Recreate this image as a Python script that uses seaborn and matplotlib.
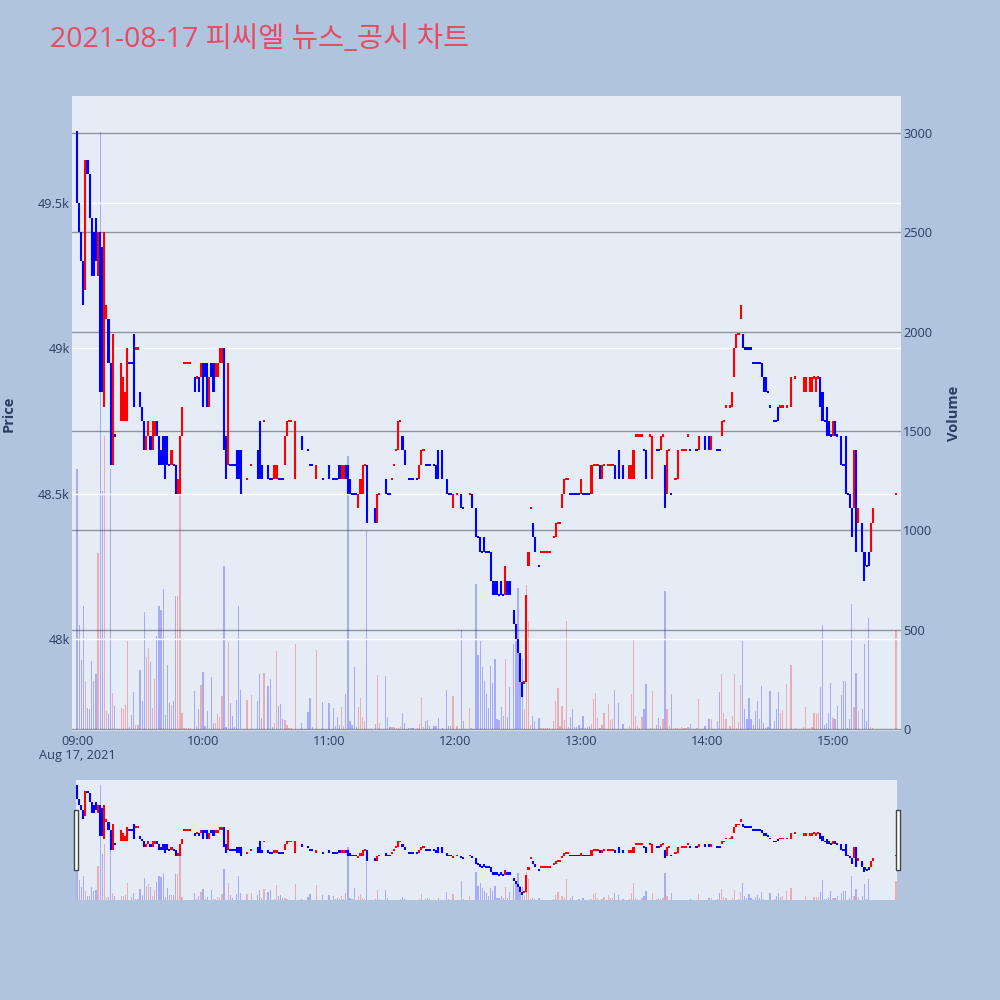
import numpy as np
import pandas as pd
import matplotlib
matplotlib.use("Agg")
import matplotlib.pyplot as plt
import seaborn as sns
from matplotlib.patches import Rectangle

# ---------------- data (minutes after 09:00) ----------------
minutes = [
    0, 1, 2, 3, 4, 5, 6, 7, 8, 9, 10, 11, 12, 13, 14, 15, 16, 17, 18,
    21, 22, 23, 24, 25, 26, 27, 28, 29, 30, 31, 32, 33, 34, 35, 36, 37, 38, 39,
    40, 41, 42, 43, 44, 45, 46, 47, 48, 49, 50, 51, 52, 53, 54, 56, 57, 58, 59,
    60, 61, 62, 63, 64, 65, 66, 67, 68, 69, 70, 71, 72, 73, 74, 75, 76, 77, 78,
    81, 83, 86, 87, 88, 89, 91, 92, 93, 94, 95, 96, 97, 98, 99,
    100, 101, 102, 104, 107, 110, 111, 112, 114, 117, 120, 122, 123, 124, 125,
    126, 127, 128, 129, 130, 131, 132, 133, 134, 135, 136, 137, 138, 142, 143,
    144, 147, 148, 149, 150, 151, 152, 153, 154, 155, 156, 158, 159, 160, 162,
    163, 164, 165, 166, 167, 168, 170, 171, 172, 174, 176, 177, 178, 179, 181,
    183, 184, 187, 188, 190, 191, 192, 193, 194, 195, 196, 197, 198, 199,
    200, 201, 202, 203, 204, 205, 206, 208, 209, 210, 211, 212, 213, 214, 215,
    216, 217, 218, 220, 221, 222, 223, 224, 225, 227, 228, 229, 230, 231, 232,
    233, 234, 235, 236, 237, 238, 239, 240, 241, 242, 243, 244, 245, 246, 247,
    248, 249, 250, 251, 253, 254, 255, 256, 258, 260, 263, 264, 265, 266, 267,
    268, 269, 270, 271, 273, 274, 276, 277, 278, 279, 280, 281, 282, 283, 285,
    286, 288, 289, 290, 291, 292, 295, 296, 299, 301, 302, 305, 306, 307, 308,
    309, 311, 312, 313, 314, 315, 316, 317, 318, 319, 320, 321, 322, 323, 324,
    325, 326, 327, 328, 329, 330, 332, 333, 334, 335, 336, 338, 340, 342, 346,
    347, 349, 350, 351, 352, 353, 354, 355, 356, 357, 358, 359, 360, 361, 362,
    364, 365, 366, 367, 368, 369, 370, 371, 372, 374, 375, 376, 377, 378, 379,
    390,
]
opens = [
    49750, 49500, 49400, 49300, 49200, 49650, 49600, 49450, 49400, 49450, 49250, 49400, 49350, 48800, 49100, 49100, 48950, 48600, 48700,
    48750, 48750, 48750, 48750, 48950, 48950, 49050, 49000, 49000, 48850, 48800, 48750, 48650, 48700, 48700, 48650, 48700, 48750, 48700,
    48650, 48700, 48700, 48700, 48600, 48600, 48600, 48600, 48500, 48500, 48700, 48950, 48950, 48950, 48950, 48900, 48900, 48900, 48900,
    48950, 48950, 48950, 48800, 48950, 48950, 48900, 48900, 48950, 48950, 49000, 48700, 48600, 48600, 48600, 48600, 48650, 48650, 48650,
    48550, 48600, 48650, 48750, 48600, 48750, 48600, 48550, 48550, 48550, 48550, 48550, 48550, 48550, 48600,
    48700, 48750, 48750, 48600, 48700, 48650, 48600, 48600, 48550, 48550, 48600, 48550, 48550, 48550, 48600,
    48550, 48550, 48600, 48600, 48550, 48500, 48500, 48500, 48450, 48500, 48500, 48600, 48600, 48450, 48400,
    48500, 48550, 48500, 48500, 48550, 48600, 48650, 48650, 48750, 48700, 48650, 48550, 48550, 48550, 48550,
    48550, 48600, 48650, 48600, 48600, 48600, 48600, 48600, 48650, 48650, 48550, 48500, 48500, 48450, 48500,
    48500, 48450, 48500, 48500, 48450, 48350, 48350, 48300, 48350, 48300, 48300, 48300, 48200, 48200,
    48200, 48150, 48200, 48150, 48150, 48200, 48200, 48100, 48050, 48000, 47950, 47850, 47850, 48000, 48250,
    48450, 48400, 48350, 48250, 48300, 48300, 48300, 48300, 48300, 48350, 48350, 48400, 48400, 48450, 48500,
    48550, 48550, 48500, 48500, 48500, 48500, 48500, 48500, 48500, 48500, 48500, 48500, 48500, 48600, 48600,
    48600, 48600, 48550, 48600, 48600, 48600, 48600, 48600, 48650, 48600, 48550, 48550, 48550, 48700, 48700,
    48700, 48700, 48650, 48650, 48700, 48550, 48650, 48650, 48650, 48700, 48600, 48500, 48650, 48500, 48550,
    48550, 48650, 48650, 48650, 48700, 48650, 48650, 48650, 48700, 48700, 48650, 48650, 48650, 48700, 48750,
    48800, 48800, 48800, 48900, 49000, 49050, 49100, 49050, 49000, 49000, 49000, 49000, 48950, 48950, 48950,
    48950, 48950, 48900, 48900, 48850, 48800, 48750, 48750, 48800, 48800, 48800, 48800, 48800, 48900, 48850,
    48850, 48850, 48850, 48900, 48850, 48900, 48900, 48850, 48750, 48800, 48750, 48700, 48700, 48750, 48700,
    48700, 48600, 48700, 48500, 48500, 48450, 48450, 48650, 48400, 48400, 48300, 48250, 48300, 48300, 48400,
    48500,
]
highs = [
    49750, 49500, 49400, 49300, 49650, 49650, 49600, 49450, 49400, 49450, 49400, 49400, 49350, 49400, 49150, 49100, 48950, 49050, 48700,
    48950, 48900, 48850, 49000, 48950, 48950, 49050, 49000, 49000, 48850, 48800, 48750, 48700, 48750, 48700, 48750, 48750, 48750, 48700,
    48650, 48700, 48700, 48700, 48600, 48650, 48600, 48600, 48550, 48700, 48800, 48950, 48950, 48950, 48950, 48900, 48900, 48900, 48950,
    48950, 48950, 48950, 48900, 48950, 48950, 48950, 48950, 49000, 49000, 49000, 48700, 48950, 48600, 48600, 48600, 48650, 48650, 48650,
    48550, 48600, 48650, 48750, 48600, 48750, 48600, 48550, 48550, 48600, 48600, 48550, 48550, 48550, 48700,
    48750, 48750, 48750, 48750, 48700, 48650, 48600, 48600, 48600, 48550, 48600, 48550, 48550, 48550, 48600,
    48600, 48600, 48600, 48600, 48550, 48500, 48500, 48500, 48500, 48550, 48600, 48600, 48600, 48450, 48500,
    48500, 48550, 48500, 48500, 48550, 48600, 48650, 48750, 48750, 48700, 48650, 48550, 48550, 48550, 48550,
    48600, 48650, 48650, 48600, 48600, 48600, 48600, 48600, 48650, 48650, 48550, 48500, 48500, 48500, 48500,
    48500, 48450, 48500, 48500, 48450, 48350, 48350, 48300, 48350, 48300, 48300, 48300, 48200, 48200,
    48200, 48150, 48200, 48150, 48250, 48200, 48200, 48100, 48050, 48000, 47950, 47850, 47850, 48150, 48300,
    48450, 48400, 48350, 48250, 48300, 48300, 48300, 48300, 48300, 48350, 48400, 48400, 48400, 48500, 48550,
    48550, 48550, 48500, 48500, 48500, 48500, 48500, 48550, 48500, 48500, 48500, 48500, 48600, 48600, 48600,
    48600, 48600, 48600, 48600, 48600, 48600, 48600, 48600, 48650, 48600, 48600, 48600, 48650, 48700, 48700,
    48700, 48700, 48650, 48650, 48700, 48700, 48650, 48650, 48700, 48700, 48600, 48650, 48650, 48500, 48550,
    48650, 48650, 48650, 48650, 48700, 48650, 48650, 48700, 48700, 48700, 48700, 48650, 48650, 48750, 48750,
    48800, 48800, 48850, 49000, 49050, 49050, 49150, 49050, 49000, 49000, 49000, 49000, 48950, 48950, 48950,
    48950, 48950, 48900, 48900, 48850, 48800, 48750, 48750, 48800, 48800, 48800, 48800, 48900, 48900, 48900,
    48900, 48900, 48900, 48900, 48900, 48900, 48900, 48850, 48750, 48800, 48750, 48700, 48750, 48750, 48700,
    48700, 48600, 48700, 48500, 48500, 48450, 48650, 48650, 48450, 48400, 48300, 48250, 48300, 48400, 48450,
    48500,
]
lows = [
    49500, 49400, 49300, 49150, 49200, 49600, 49450, 49250, 49250, 49300, 49250, 48850, 48850, 48800, 49100, 48950, 48600, 48600, 48700,
    48750, 48750, 48750, 48750, 48950, 48950, 48800, 49000, 49000, 48800, 48750, 48650, 48650, 48700, 48650, 48650, 48700, 48700, 48600,
    48600, 48600, 48550, 48600, 48600, 48600, 48600, 48500, 48500, 48500, 48700, 48950, 48950, 48950, 48950, 48850, 48900, 48850, 48900,
    48800, 48900, 48800, 48800, 48900, 48850, 48900, 48900, 48950, 48950, 48650, 48550, 48600, 48600, 48600, 48600, 48550, 48550, 48500,
    48550, 48600, 48550, 48550, 48550, 48750, 48550, 48550, 48550, 48550, 48550, 48550, 48550, 48550, 48600,
    48700, 48750, 48750, 48550, 48650, 48650, 48600, 48600, 48550, 48550, 48550, 48550, 48550, 48550, 48550,
    48550, 48550, 48550, 48500, 48500, 48500, 48500, 48500, 48450, 48500, 48500, 48600, 48400, 48400, 48400,
    48500, 48500, 48500, 48500, 48550, 48600, 48650, 48650, 48750, 48650, 48600, 48550, 48550, 48550, 48550,
    48550, 48600, 48650, 48600, 48600, 48600, 48600, 48550, 48550, 48550, 48500, 48500, 48500, 48450, 48500,
    48450, 48450, 48500, 48450, 48350, 48350, 48300, 48300, 48300, 48300, 48300, 48200, 48150, 48150,
    48150, 48150, 48150, 48150, 48150, 48150, 48150, 48050, 48000, 47950, 47850, 47800, 47850, 47850, 48250,
    48450, 48350, 48300, 48250, 48300, 48300, 48300, 48300, 48300, 48350, 48350, 48400, 48400, 48450, 48500,
    48550, 48550, 48500, 48500, 48500, 48500, 48500, 48500, 48500, 48500, 48500, 48500, 48500, 48600, 48600,
    48600, 48550, 48550, 48600, 48600, 48600, 48600, 48550, 48550, 48550, 48550, 48550, 48550, 48700, 48700,
    48700, 48700, 48650, 48550, 48700, 48550, 48650, 48650, 48650, 48700, 48450, 48500, 48650, 48500, 48550,
    48550, 48650, 48650, 48650, 48700, 48650, 48650, 48650, 48650, 48650, 48650, 48650, 48650, 48700, 48750,
    48800, 48800, 48800, 48900, 49000, 49050, 49100, 49000, 49000, 49000, 49000, 49000, 48950, 48950, 48950,
    48950, 48900, 48850, 48850, 48850, 48800, 48750, 48750, 48750, 48800, 48800, 48800, 48800, 48900, 48850,
    48850, 48850, 48850, 48900, 48850, 48900, 48800, 48750, 48750, 48700, 48700, 48700, 48700, 48700, 48700,
    48600, 48600, 48500, 48500, 48450, 48350, 48450, 48300, 48400, 48300, 48200, 48250, 48250, 48300, 48400,
    48500,
]
closes = [
    49500, 49400, 49300, 49150, 49650, 49600, 49450, 49250, 49250, 49300, 49400, 48850, 48850, 49150, 49150, 48950, 48600, 49050, 48700,
    48950, 48900, 48850, 49000, 48950, 48950, 48800, 49000, 49000, 48800, 48750, 48650, 48700, 48750, 48650, 48750, 48750, 48700, 48600,
    48600, 48600, 48550, 48600, 48600, 48650, 48600, 48500, 48550, 48700, 48800, 48950, 48950, 48950, 48950, 48850, 48900, 48850, 48950,
    48800, 48900, 48800, 48900, 48900, 48850, 48950, 48950, 49000, 49000, 48650, 48550, 48950, 48600, 48600, 48600, 48550, 48550, 48500,
    48550, 48600, 48550, 48550, 48550, 48750, 48550, 48550, 48550, 48600, 48600, 48550, 48550, 48550, 48700,
    48750, 48750, 48750, 48750, 48650, 48650, 48600, 48600, 48600, 48550, 48550, 48550, 48550, 48550, 48550,
    48600, 48600, 48550, 48500, 48500, 48500, 48500, 48500, 48500, 48550, 48600, 48600, 48400, 48400, 48500,
    48500, 48500, 48500, 48500, 48550, 48600, 48650, 48750, 48750, 48650, 48600, 48550, 48550, 48550, 48550,
    48600, 48650, 48650, 48600, 48600, 48600, 48600, 48550, 48550, 48550, 48500, 48500, 48500, 48500, 48500,
    48450, 48450, 48500, 48450, 48350, 48350, 48300, 48300, 48300, 48300, 48300, 48200, 48150, 48150,
    48150, 48150, 48150, 48150, 48250, 48150, 48150, 48050, 48000, 47950, 47850, 47800, 47850, 48150, 48300,
    48450, 48350, 48300, 48250, 48300, 48300, 48300, 48300, 48300, 48350, 48400, 48400, 48400, 48500, 48550,
    48550, 48550, 48500, 48500, 48500, 48500, 48500, 48550, 48500, 48500, 48500, 48500, 48600, 48600, 48600,
    48600, 48550, 48600, 48600, 48600, 48600, 48600, 48550, 48550, 48550, 48600, 48600, 48650, 48700, 48700,
    48700, 48700, 48650, 48550, 48700, 48700, 48650, 48650, 48700, 48700, 48450, 48650, 48650, 48500, 48550,
    48650, 48650, 48650, 48650, 48700, 48650, 48650, 48700, 48650, 48650, 48700, 48650, 48650, 48750, 48750,
    48800, 48800, 48850, 49000, 49050, 49050, 49150, 49000, 49000, 49000, 49000, 49000, 48950, 48950, 48950,
    48950, 48900, 48850, 48850, 48850, 48800, 48750, 48750, 48750, 48800, 48800, 48800, 48900, 48900, 48900,
    48900, 48900, 48900, 48900, 48900, 48900, 48800, 48750, 48750, 48700, 48700, 48700, 48750, 48700, 48700,
    48600, 48600, 48500, 48500, 48450, 48350, 48650, 48300, 48450, 48300, 48250, 48250, 48250, 48400, 48450,
    48500,
]
volumes = [
    1309, 525, 345, 620, 239, 105, 99, 342, 243, 274, 885, 3006, 1200, 1473, 88, 74, 1309, 181, 115,
    103, 99, 119, 442, 10, 68, 185, 20, 20, 294, 140, 586, 362, 407, 335, 105, 253, 469, 617,
    599, 706, 68, 321, 130, 119, 140, 671, 671, 1200, 82, 6, 6, 6, 6, 189, 16, 99, 222,
    284, 16, 88, 6, 263, 27, 27, 74, 58, 165, 819, 10, 436, 130, 64, 10, 144, 617, 193,
    144, 171, 140, 274, 56, 282, 216, 249, 10, 30, 391, 115, 125, 49, 43,
    20, 6, 6, 428, 30, 84, 156, 10, 397, 134, 130, 105, 16, 62, 20,
    109, 16, 175, 1374, 40, 20, 309, 10, 109, 156, 58, 37, 994, 22, 270,
    30, 267, 58, 10, 10, 10, 6, 6, 16, 78, 27, 6, 6, 6, 6,
    25, 160, 10, 37, 43, 16, 12, 12, 53, 6, 197, 16, 12, 167, 12,
    500, 37, 105, 6, 730, 372, 442, 309, 243, 177, 105, 315, 233, 354,
    47, 43, 109, 64, 350, 62, 212, 428, 442, 708, 370, 350, 99, 724, 545,
    20, 64, 37, 53, 6, 6, 6, 6, 6, 37, 140, 208, 12, 113, 43,
    541, 10, 58, 99, 10, 10, 20, 6, 64, 6, 10, 16, 25, 150, 179,
    53, 6, 20, 78, 125, 43, 47, 193, 130, 22, 16, 175, 449, 64, 16,
    6, 58, 99, 228, 6, 191, 20, 53, 16, 47, 695, 99, 12, 177, 6,
    6, 10, 6, 6, 10, 22, 6, 150, 12, 47, 51, 37, 187, 278, 82,
    47, 12, 64, 274, 6, 33, 222, 442, 99, 47, 156, 47, 20, 88, 140,
    47, 216, 27, 6, 10, 191, 37, 99, 185, 78, 95, 228, 319, 6, 10,
    109, 6, 10, 78, 74, 78, 212, 525, 20, 27, 78, 233, 53, 47, 115,
    171, 239, 239, 6, 47, 630, 109, 282, 88, 99, 428, 37, 558, 10, 6,
    500,
]

hour_ticks = [0, 60, 120, 180, 240, 300, 360]
hour_labels = ["09:00\nAug 17, 2021", "10:00", "11:00", "12:00", "13:00", "14:00", "15:00"]
price_ticks = [48000, 48500, 49000, 49500]
price_labels = ["48k", "48.5k", "49k", "49.5k"]
volume_ticks = [0, 500, 1000, 1500, 2000, 2500, 3000]
title_text = "2021-08-17 피씨엘 뉴스_공시 차트"

# ---------------- direction (plotly rule) ----------------
o = np.array(opens, float); c = np.array(closes, float)
h = np.array(highs, float); l = np.array(lows, float)
x = np.array(minutes, float)
inc = []
prev_inc, prev_c = True, None
for oo, cc in zip(o, c):
    if cc > oo:
        d = True
    elif cc < oo:
        d = False
    else:
        d = (cc > prev_c) if (prev_c is not None and cc != prev_c) else prev_inc
    inc.append(d)
    prev_inc, prev_c = d, cc
inc = np.array(inc)

df = pd.DataFrame({"minute": minutes, "volume": volumes,
                   "dir": np.where(inc, "up", "down")})

RED, BLUE = "#ff0000", "#0000ff"
colors = np.where(inc, RED, BLUE)

sns.set_theme(style="white")
plt.rcParams["font.family"] = ["Open Sans", "DejaVu Sans"]
TICKC = "#2a3f5f"
BG = "#e5ecf6"
TICK_FS = 9.2

fig = plt.figure(figsize=(10, 10), dpi=100, facecolor="#b0c4de")


def draw_candles(axis, min_px, px_per_unit):
    pad_units = min_px / px_per_unit
    bot = np.minimum(o, c)
    hgt = np.abs(c - o)
    extra = np.maximum(0, pad_units - hgt) / 2
    axis.bar(x, hgt + 2 * extra, bottom=bot - extra, width=1.0,
             color=colors, linewidth=0, zorder=3)
    axis.vlines(x, l, h, colors=colors, linewidth=1.5, zorder=3)


def draw_volume(axis):
    sns.histplot(data=df, x="minute", weights="volume", hue="dir",
                 hue_order=["up", "down"], palette={"up": RED, "down": BLUE},
                 discrete=True, shrink=0.6, alpha=0.27, linewidth=0,
                 legend=False, ax=axis)


MAIN = [0.072, 0.269, 0.829, 0.635]
XLIM = (-2.4, 392.4)

# ---------------- main chart: volume layer ----------------
axv = fig.add_axes(MAIN)
axv.set_facecolor(BG)
draw_volume(axv)
axv.set_ylim(-11, 3187)
axv.set_xlim(*XLIM)
axv.yaxis.tick_right()
axv.set_yticks(volume_ticks)
axv.set_yticklabels([str(v) for v in volume_ticks])
axv.grid(axis="y", color="#8f939b", linewidth=1.0)
axv.grid(axis="x", visible=False)
axv.set_axisbelow(True)
axv.tick_params(axis="x", bottom=False, labelbottom=False)
axv.set_xlabel("")
axv.set_ylabel("")
axv.tick_params(axis="y", length=0, pad=1.5, labelsize=TICK_FS, labelcolor=TICKC)
for s in axv.spines.values():
    s.set_visible(False)

# ---------------- main chart: price layer ----------------
ax = fig.add_axes(MAIN)
ax.patch.set_visible(False)
ax.set_ylim(47683, 49869)
px_per_won = 635 / (49869 - 47683)
draw_candles(ax, 2.2, px_per_won)
ax.set_xlim(*XLIM)
ax.set_ylim(47683, 49869)
ax.set_yticks(price_ticks)
ax.set_yticklabels(price_labels)
ax.grid(axis="y", color="white", linewidth=1.0, zorder=0)
ax.grid(axis="x", visible=False)
ax.set_xticks(hour_ticks)
ax.set_xticklabels(hour_labels, linespacing=1.1)
ax.tick_params(axis="y", length=0, pad=1.5, labelsize=TICK_FS, labelcolor=TICKC)
ax.tick_params(axis="x", length=0, pad=3.0, labelsize=TICK_FS, labelcolor=TICKC)
for s in ax.spines.values():
    s.set_visible(False)

fig.text(0.009, 0.5865, "Price", rotation=90, ha="center", va="center",
         fontsize=10.5, fontweight="bold", color=TICKC)
fig.text(0.954, 0.5865, "Volume", rotation=90, ha="center", va="center",
         fontsize=10.5, fontweight="bold", color=TICKC)
fig.text(0.05, 0.960, title_text, ha="left", va="center", fontsize=20.5,
         color="#e84a62", family=["Open Sans", "Noto Sans CJK KR"])

# ---------------- range slider ----------------
RS = [0.076, 0.100, 0.821, 0.120]
rsv = fig.add_axes(RS)
rsv.set_facecolor(BG)
draw_volume(rsv)
rsv.set_ylim(0, 3137)
rsv.set_xlim(-0.5, 390.5)
rsv.set_xticks([]); rsv.set_yticks([])
rsv.set_xlabel(""); rsv.set_ylabel("")
for s in rsv.spines.values():
    s.set_visible(False)

rsp = fig.add_axes(RS)
rsp.patch.set_visible(False)
draw_candles(rsp, 1.8, 120 / (49839 - 47711))
rsp.set_ylim(47711, 49839)
rsp.set_xlim(-0.5, 390.5)
rsp.axis("off")

for hx in (0.0735, 0.8955):
    fig.patches.append(Rectangle((hx, 0.130), 0.004, 0.060,
                                 transform=fig.transFigure, facecolor="white",
                                 edgecolor="#444444", linewidth=1.0))

fig.savefig("out.png", dpi=100, facecolor=fig.get_facecolor())
